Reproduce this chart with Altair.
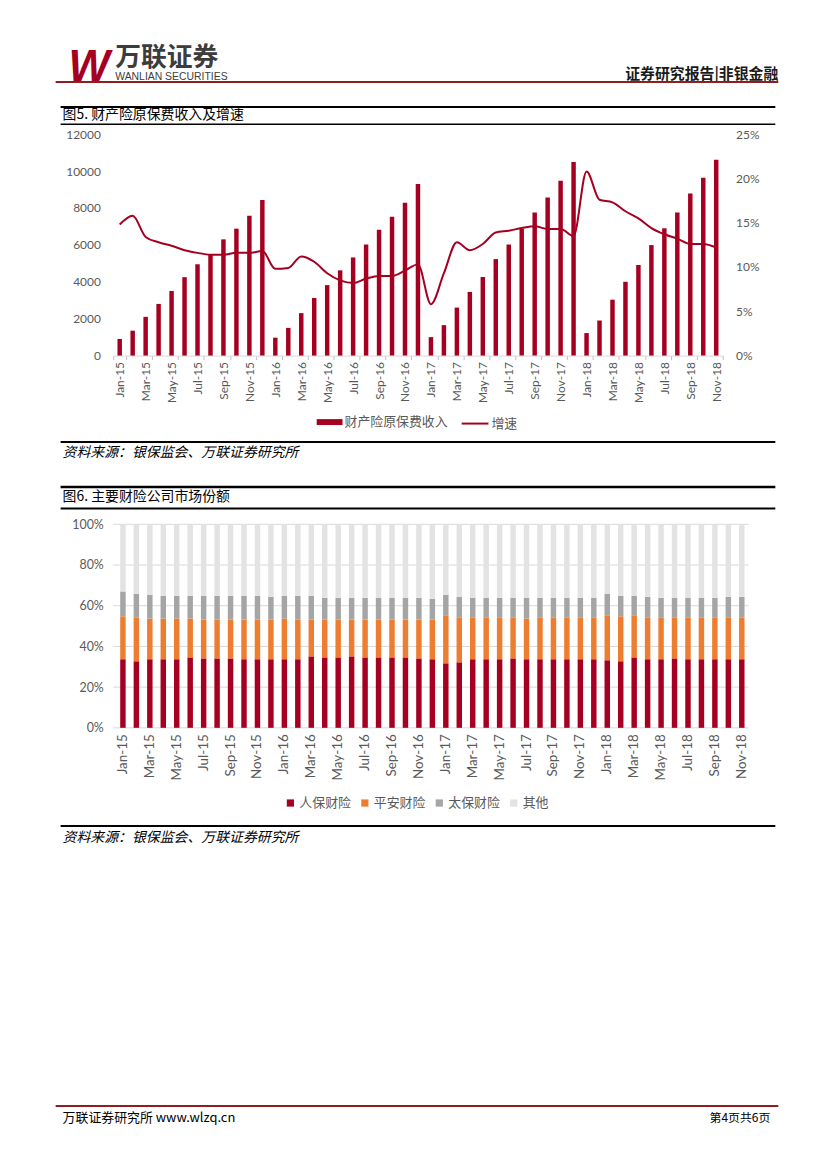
import altair as alt
import pandas as pd

# ---------------- data ----------------
MONTH_NAMES = ["Jan", "Feb", "Mar", "Apr", "May", "Jun", "Jul", "Aug", "Sep", "Oct", "Nov", "Dec"]
YEARS = ["15", "16", "17", "18"]
months = [f"{m}-{y}" for y in YEARS for m in MONTH_NAMES][:47]
label_months = months[::2]

# 图5: 财产险原保费收入 (亿元) 及增速 (%)
income = [900, 1350, 2100, 2800, 3500, 4250, 4950, 5500, 6300, 6880, 7580, 8430,
          970, 1500, 2300, 3120, 3820, 4620, 5320, 6020, 6820, 7520, 8280, 9300,
          1000, 1650, 2600, 3450, 4260, 5230, 6020, 6880, 7760, 8570, 9480, 10500,
          1220, 1900, 3030, 4000, 4910, 5990, 6900, 7760, 8780, 9640, 10610]
growth = [14.8, 15.8, 13.4, 12.8, 12.4, 11.9, 11.6, 11.4, 11.4, 11.6, 11.6, 11.8,
          9.8, 9.9, 11.2, 10.6, 9.3, 8.5, 8.2, 8.7, 9.0, 9.0, 9.6, 10.3,
          5.8, 9.3, 12.8, 11.9, 12.6, 13.9, 14.1, 14.4, 14.6, 14.3, 14.3, 13.5,
          20.8, 17.6, 17.3, 16.3, 15.5, 14.4, 13.7, 13.2, 12.6, 12.6, 12.2]
SERIES5 = ["财产险原保费收入", "增速"]
Y5_TICKS = [0, 2000, 4000, 6000, 8000, 10000, 12000]
Y5R_TICKS = [0, 0.05, 0.10, 0.15, 0.20, 0.25]

# 图6: 主要财险公司市场份额 (%)
COMPANIES = ["人保财险", "平安财险", "太保财险", "其他"]
renbao = [33.7, 32.7, 33.7, 33.7, 33.7, 34.6, 34.1, 34.1, 34.1, 33.7, 33.7, 33.7,
          33.7, 33.7, 35.1, 34.6, 34.6, 35.1, 34.6, 34.6, 34.6, 34.6, 34.1, 33.7,
          31.7, 32.2, 33.7, 33.7, 33.7, 34.1, 33.7, 33.7, 33.7, 33.7, 33.7, 33.7,
          33.2, 32.7, 34.6, 33.7, 33.7, 34.1, 33.7, 33.7, 33.7, 33.7, 33.7]
pingan = [21.1, 21.6, 20.0, 20.0, 20.0, 19.1, 19.1, 19.1, 19.1, 19.5, 19.5, 19.5,
          20.0, 19.5, 18.1, 18.6, 18.6, 18.1, 18.6, 18.6, 18.6, 18.6, 19.1, 19.5,
          23.6, 22.1, 20.6, 20.6, 20.6, 20.2, 20.0, 20.6, 20.6, 20.6, 20.6, 20.6,
          22.1, 22.1, 20.7, 20.6, 20.6, 20.2, 20.6, 20.6, 20.6, 20.6, 20.6]
taibao = [12.2, 11.6, 11.7, 11.2, 11.2, 11.2, 11.7, 11.7, 11.7, 11.7, 11.7, 11.2,
          11.2, 11.7, 11.7, 10.7, 10.7, 10.7, 10.7, 10.7, 10.7, 10.7, 10.7, 10.2,
          10.1, 10.1, 9.6, 9.6, 9.6, 9.6, 10.2, 9.6, 9.6, 9.6, 9.6, 9.6,
          10.6, 10.1, 9.6, 10.1, 9.6, 9.6, 9.6, 9.6, 9.6, 10.1, 10.1]
others = [33.0, 34.1, 34.6, 35.1, 35.1, 35.1, 35.1, 35.1, 35.1, 35.1, 35.1, 35.6,
          35.1, 35.1, 35.1, 36.1, 36.1, 36.1, 36.1, 36.1, 36.1, 36.1, 36.1, 36.6,
          34.6, 35.6, 36.1, 36.1, 36.1, 36.1, 36.1, 36.1, 36.1, 36.1, 36.1, 36.1,
          34.1, 35.1, 35.1, 35.6, 36.1, 36.1, 36.1, 36.1, 36.1, 35.6, 35.6]
Y6_TICKS = [0, 20, 40, 60, 80, 100]

# page texts
HEADER_LOGO = "W"
HEADER_CN = "万联证券"
HEADER_EN = "WANLIAN SECURITIES"
HEADER_RIGHT = "证券研究报告|非银金融"
TITLE5 = "图5. 财产险原保费收入及增速"
TITLE6 = "图6. 主要财险公司市场份额"
SOURCE = "资料来源：银保监会、万联证券研究所"
FOOTER_LEFT = "万联证券研究所 www.wlzq.cn"
FOOTER_RIGHT = "第4页共6页"

# ---------------- styles ----------------
RED = "#A50021"
DARKRED = "#8E1E20"
COLORS6 = ["#A50021", "#ED7D31", "#A5A5A5", "#E3E3E3"]
NUMFONT = "Lato, Noto Sans CJK SC, sans-serif"
CJK = "Noto Sans CJK SC"
GRAYTXT = "#595959"

# ---------------- overlay (header / titles / sources / footer) ----------------
def text_layer(txt, x, y, size, align="left", baseline="middle", color="#000000",
               weight="normal", style="normal", font=CJK):
    return alt.Chart(pd.DataFrame({"t": [txt]})).mark_text(
        align=align, baseline=baseline, fontSize=size, color=color,
        fontWeight=weight, fontStyle=style, font=font
    ).encode(x=alt.value(x), y=alt.value(y), text="t:N")


def rule_layer(x1, x2, y, color="#000000", width=2):
    return alt.Chart(pd.DataFrame({"r": [0]})).mark_rule(
        color=color, strokeWidth=width
    ).encode(x=alt.value(x1), x2=alt.value(x2), y=alt.value(y))


overlay = alt.layer(
    text_layer(HEADER_LOGO, 55, 69, 44, baseline="alphabetic", color=RED,
               weight="bold", style="italic", font="Liberation Sans"),
    text_layer(HEADER_CN, 102, 46, 26, color="#3C3C3C", weight="bold"),
    text_layer(HEADER_EN, 102, 65.5, 10.5, color="#404040", font="Liberation Sans"),
    text_layer(HEADER_RIGHT, 770, 62, 15, align="right", color="#1A1A1A", weight="bold"),
    rule_layer(42, 770, 70.5, color=DARKRED, width=2),
    rule_layer(47, 767, 95.5, width=2),
    text_layer(TITLE5, 49, 104, 14),
    rule_layer(47, 767, 113, width=1.5),
    rule_layer(47, 767, 433, width=2),
    text_layer(SOURCE, 49, 444, 14, style="italic"),
    rule_layer(47, 767, 478.5, width=2.5),
    text_layer(TITLE6, 49, 489, 14),
    rule_layer(47, 767, 500, width=2),
    rule_layer(47, 767, 820, width=2),
    text_layer(SOURCE, 49, 832, 14, style="italic"),
    rule_layer(42, 770, 1102, color=DARKRED, width=2),
    text_layer(FOOTER_LEFT, 49, 1114, 13),
    text_layer(FOOTER_RIGHT, 762, 1114, 12, align="right"),
).properties(width=811, height=123)


def blank(w, h):
    return alt.Chart(pd.DataFrame({"b": [0]})).mark_point(opacity=0, size=1).encode(
        x=alt.value(5), y=alt.value(5)
    ).properties(width=w, height=h)


# ---------------- chart 5 ----------------
# panel spans page x 8..722; bars occupy page x 108..722
df5 = pd.DataFrame({
    "month": months,
    "income": income,
    "growth": [g / 100 for g in growth],
    "s1": SERIES5[0],
    "s2": SERIES5[1],
})

x5 = alt.X("month:N", sort=months, title=None,
           scale=alt.Scale(range=[100, 714], paddingInner=0, paddingOuter=0),
           axis=alt.Axis(values=label_months, labelAngle=270, labelFontSize=12,
                         labelFont=NUMFONT, labelColor=GRAYTXT, labelPadding=2,
                         domainColor="#D9D9D9", tickColor="#BFBFBF", tickSize=4,
                         tickBand="extent", grid=False))

bars5 = alt.Chart(df5).mark_bar(size=4.5).encode(
    x=x5,
    y=alt.Y("income:Q", title=None, scale=alt.Scale(domain=[0, 12000]),
            axis=alt.Axis(values=Y5_TICKS, format="d", offset=-100,
                          domain=False, ticks=False, grid=False, labelPadding=13,
                          labelFontSize=12, labelFont=NUMFONT, labelColor=GRAYTXT)),
    fill=alt.Fill("s1:N", scale=alt.Scale(domain=[SERIES5[0]], range=[RED]),
                  legend=alt.Legend(title=None, orient="none", legendX=305, legendY=277,
                                    symbolType="M-1,-0.23H1V0.23H-1Z", symbolSize=676,
                                    symbolStrokeWidth=0, labelFontSize=13, labelFont=CJK,
                                    labelColor=GRAYTXT, labelOffset=2, padding=0)),
)

line5 = alt.Chart(df5).mark_line(strokeWidth=2, interpolate="monotone").encode(
    x=x5,
    y=alt.Y("growth:Q", title=None, scale=alt.Scale(domain=[0, 0.25]),
            axis=alt.Axis(orient="right", values=Y5R_TICKS,
                          format=".0%", domain=False, ticks=False, grid=False,
                          labelPadding=13, labelFontSize=12, labelFont=NUMFONT,
                          labelColor=GRAYTXT)),
    stroke=alt.Stroke("s2:N", scale=alt.Scale(domain=[SERIES5[1]], range=[RED]),
                      legend=alt.Legend(title=None, orient="none", legendX=450, legendY=277,
                                        symbolType="stroke", symbolSize=729,
                                        symbolStrokeWidth=2, labelFontSize=13, labelFont=CJK,
                                        labelColor=GRAYTXT, labelOffset=2, padding=0)),
)

chart5 = alt.layer(bars5, line5).resolve_scale(y="independent").properties(width=714, height=223)

# ---------------- chart 6 ----------------
# panel spans page x 8..748; bars occupy page x 111..748
rows = []
for i, m in enumerate(months):
    for k, (name, arr) in enumerate(zip(COMPANIES, [renbao, pingan, taibao, others])):
        rows.append({"month": m, "company": name, "share": arr[i], "rank": k})
df6 = pd.DataFrame(rows)
grid6 = pd.DataFrame({"g": Y6_TICKS})

y6_scale = alt.Scale(domain=[0, 100])

grid_layer = alt.Chart(grid6).mark_rule(color="#D9D9D9", strokeWidth=1).encode(
    y=alt.Y("g:Q", scale=y6_scale, title=None,
            axis=alt.Axis(values=Y6_TICKS, labelExpr="datum.value + '%'", offset=-103,
                          domain=False, ticks=False, grid=False,
                          labelPadding=13, labelFontSize=12.5, labelFont=NUMFONT,
                          labelColor=GRAYTXT)),
    x=alt.value(100), x2=alt.value(740),
)

bars6 = alt.Chart(df6).mark_bar(size=5.5).encode(
    x=alt.X("month:N", sort=months, title=None,
            scale=alt.Scale(range=[103, 740], paddingInner=0, paddingOuter=0),
            axis=alt.Axis(values=label_months, labelAngle=270, labelFontSize=13.5,
                          labelFont=NUMFONT, labelColor=GRAYTXT, labelPadding=6,
                          domain=False, ticks=False, grid=False)),
    y=alt.Y("share:Q", title=None, stack="zero", scale=y6_scale),
    color=alt.Color("company:N", scale=alt.Scale(domain=COMPANIES, range=COLORS6),
                    legend=alt.Legend(title=None, orient="none", legendX=272, legendY=274,
                                      direction="horizontal", symbolType="square",
                                      symbolSize=53, symbolStrokeWidth=0,
                                      labelFontSize=13, labelFont=CJK, labelColor=GRAYTXT,
                                      labelOffset=2.5, columnPadding=7, padding=0)),
    order=alt.Order("rank:Q", sort="ascending"),
)

chart6 = alt.layer(grid_layer, bars6).properties(width=740, height=205)

page = alt.vconcat(overlay, chart5, blank(10, 170), chart6, spacing=0, bounds="flush").resolve_scale(
    color="independent", fill="independent", stroke="independent"
).properties(
    padding={"left": 0, "top": 0, "right": 0, "bottom": 0}, background="white"
).configure_view(strokeWidth=0)

page.save("out.html", embed_options={"renderer": "svg", "actions": False})
